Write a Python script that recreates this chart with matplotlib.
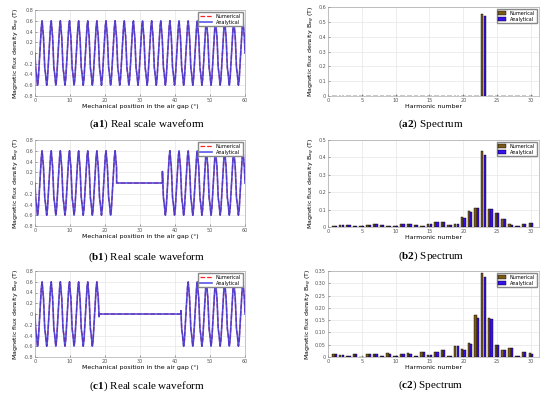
import numpy as np
import matplotlib
matplotlib.use('Agg')
import matplotlib.pyplot as plt

# one period of the air gap flux density waveform (phase 0..1, Tesla)
period_phase = [0.00, 0.06, 0.10, 0.14, 0.20, 0.28, 0.36, 0.44, 0.53,
                0.62, 0.70, 0.78, 0.84, 0.88, 0.92, 0.96, 1.00]
period_value = [0.00, -0.26, -0.33, -0.36, -0.48, -0.60, -0.50, -0.28, 0.00,
                0.28, 0.50, 0.60, 0.46, 0.36, 0.33, 0.20, 0.00]
n_periods = 23
x_max = 60

# zero regions (degrees) for b1 and c1
gaps = {'a1': None, 'b1': (23.3, 36.4), 'c1': (18.3, 41.7)}

harmonics = np.arange(1, 31)
a2_num = [0] * 22 + [0.555] + [0] * 7
a2_ana = [0] * 22 + [0.540] + [0] * 7
b2_num = [0.005, 0.012, 0.013, 0.006, 0.003, 0.011, 0.016, 0.012, 0.004, 0.008,
          0.017, 0.020, 0.010, 0.005, 0.018, 0.030, 0.028, 0.012, 0.018, 0.055,
          0.090, 0.112, 0.435, 0.105, 0.080, 0.048, 0.015, 0.008, 0.020, 0.022]
b2_ana = [0.005, 0.011, 0.012, 0.005, 0.003, 0.010, 0.015, 0.011, 0.004, 0.008,
          0.016, 0.019, 0.009, 0.004, 0.017, 0.029, 0.027, 0.011, 0.017, 0.053,
          0.085, 0.108, 0.415, 0.103, 0.078, 0.045, 0.014, 0.007, 0.019, 0.021]
c2_num = [0.012, 0.008, 0.005, 0.013, 0.002, 0.012, 0.012, 0.005, 0.015, 0.005,
          0.013, 0.015, 0.004, 0.022, 0.010, 0.020, 0.028, 0.004, 0.046, 0.032,
          0.055, 0.170, 0.340, 0.160, 0.050, 0.028, 0.038, 0.003, 0.020, 0.015]
c2_ana = [0.011, 0.007, 0.005, 0.012, 0.002, 0.011, 0.011, 0.005, 0.014, 0.005,
          0.012, 0.014, 0.004, 0.021, 0.009, 0.019, 0.027, 0.004, 0.044, 0.030,
          0.053, 0.160, 0.325, 0.155, 0.048, 0.027, 0.036, 0.003, 0.019, 0.014]

spectra = {'a2': (a2_num, a2_ana, 0.6, np.arange(0, 0.61, 0.1), '{:.1f}'),
           'b2': (b2_num, b2_ana, 0.5, np.arange(0, 0.51, 0.1), '{:.1f}'),
           'c2': (c2_num, c2_ana, 0.35, np.arange(0, 0.351, 0.05), '{:.2f}')}

captions = {'a1': 'Real scale waveform', 'a2': 'Spectrum',
            'b1': 'Real scale waveform', 'b2': 'Spectrum',
            'c1': 'Real scale waveform', 'c2': 'Spectrum'}

# axes boxes in pixels: left, top, right, bottom
W, H = 550, 395
boxes = {'a1': (35, 10, 245, 96), 'a2': (328, 7, 539, 96),
         'b1': (35, 140, 245, 226), 'b2': (328, 140, 539, 227),
         'c1': (35, 271, 245, 357), 'c2': (328, 271, 539, 357)}
cap_pos = {'a1': (147, 124), 'a2': (431, 124), 'b1': (147, 257),
           'b2': (431, 256), 'c1': (147, 386), 'c2': (431, 385)}

plt.rcParams['mathtext.fontset'] = 'custom'
plt.rcParams['mathtext.bf'] = 'Liberation Serif:bold'
plt.rcParams['mathtext.rm'] = 'Liberation Serif'

fig = plt.figure(figsize=(W / 100, H / 100), dpi=100)


def make_axes(key):
    l, t, r, b = boxes[key]
    ax = fig.add_axes([l / W, 1 - b / H, (r - l) / W, (b - t) / H])
    ax.grid(True, color='#e6e6e6', linewidth=0.5)
    ax.set_axisbelow(True)
    ax.tick_params(direction='in', labelsize=3.5, length=1.5, width=0.4, pad=1.5,
                   colors='#555555')
    for s in ax.spines.values():
        s.set_linewidth(0.4)
        s.set_color('#999999')
    return ax


x = np.linspace(0, x_max, 6000)
period = x_max / n_periods
base = np.interp((x % period) / period, period_phase, period_value)

for key in ['a1', 'b1', 'c1']:
    ax = make_axes(key)
    y = base.copy()
    if gaps[key] is not None:
        g0, g1 = gaps[key]
        y[(x > g0) & (x < g1)] = 0
    ax.plot(x, y, color='#ff2020', linestyle='--', linewidth=0.9, label='Numerical')
    ax.plot(x, y, color='#3a3ae0', linewidth=1.2, alpha=0.85, label='Analytical')
    ax.set_xlim(0, 60)
    ax.set_ylim(-0.8, 0.8)
    ax.set_xticks(np.arange(0, 61, 10))
    ax.set_yticks(np.arange(-0.8, 0.81, 0.2))
    ax.set_yticklabels(['-0.8', '-0.6', '-0.4', '-0.2', '0', '0.2', '0.4', '0.6', '0.8'])
    ax.set_xlabel('Mechanical position in the air gap (°)', fontsize=4.5, labelpad=1)
    ax.set_ylabel('Magnetic flux density B$_{ag}$ (T)', fontsize=4.5, labelpad=1)
    ax.legend(loc='upper right', fontsize=3.5, handlelength=2.5, borderpad=0.3,
              labelspacing=0.2, framealpha=1, fancybox=False, edgecolor='#888888')

for key in ['a2', 'b2', 'c2']:
    ax = make_axes(key)
    num, ana, ytop, yt, fmt = spectra[key]
    ax.bar(harmonics - 0.18, num, width=0.34, color='#7a5a1a', edgecolor='black',
           linewidth=0.3, label='Numerical')
    ax.bar(harmonics + 0.18, ana, width=0.34, color='#3a10f0', edgecolor='black',
           linewidth=0.3, label='Analytical')
    ax.set_xlim(0, 31.2)
    ax.set_ylim(0, ytop)
    ax.set_xticks(np.arange(0, 31, 5))
    ax.set_yticks(yt)
    ax.set_yticklabels(['0'] + [fmt.format(v) for v in yt[1:]])
    ax.set_xlabel('Harmonic number', fontsize=4.5, labelpad=1)
    ax.set_ylabel('Magnetic flux density B$_{ag}$ (T)', fontsize=4.5, labelpad=1)
    ax.legend(loc='upper right', fontsize=3.5, handlelength=1.6, borderpad=0.3,
              labelspacing=0.2, framealpha=1, fancybox=False, edgecolor='#888888')

for key, (cx, cy) in cap_pos.items():
    fig.text(cx / W, 1 - cy / H,
             r'($\mathbf{' + key + '}$) ' + captions[key],
             ha='center', va='center', fontsize=8, family='Liberation Serif')

fig.savefig('out.png', dpi=100)
